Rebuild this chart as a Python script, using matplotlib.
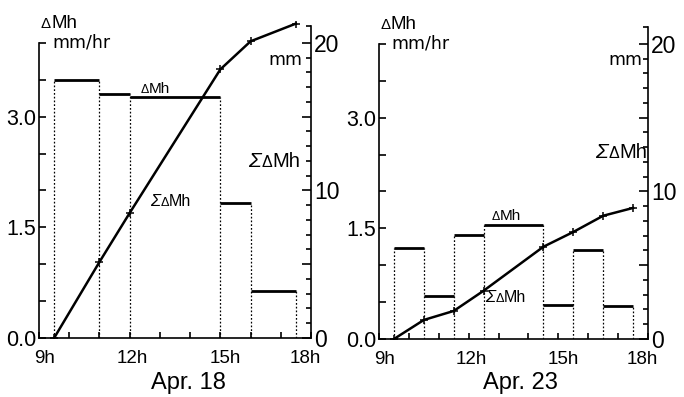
import matplotlib
matplotlib.use("Agg")
import matplotlib.pyplot as plt
from matplotlib.transforms import offset_copy, ScaledTranslation

plt.rcParams['font.family'] = ['Liberation Sans', 'DejaVu Sans']

W, H, DPI = 684, 397, 100

# Apr. 18: hourly melt rate (mm/hr) over each interval, and cumulative melt (mm)
edges_18 = [9.5, 11, 12, 15, 16, 17.5]
rate_18 = [3.50, 3.31, 3.26, 1.83, 0.64]
cum_hours_18 = [9.5, 11, 12, 15, 16, 17.5]
cum_18 = [0.0, 5.15, 8.47, 18.2, 20.1, 21.3]

# Apr. 23
edges_23 = [9.5, 10.5, 11.5, 12.5, 14.5, 15.5, 16.5, 17.5]
rate_23 = [1.23, 0.58, 1.41, 1.54, 0.46, 1.21, 0.45]
cum_hours_23 = [9.5, 10.5, 11.5, 12.5, 14.5, 15.5, 16.5, 17.5]
cum_23 = [0.0, 1.29, 1.90, 3.27, 6.25, 7.25, 8.35, 8.88]

hour_ticks = list(range(9, 19))
hour_labels = ['9h', '', '', '12h', '', '', '15h', '', '', '18h']
rate_ticks = [0.0, 0.5, 1.0, 1.5, 2.0, 2.5, 3.0, 3.5, 4.0]
rate_labels = ['0.0', '', '', '1.5', '', '', '3.0', '', '']
mm_major = [0, 5, 10, 15, 20]
mm_major_labels = ['0', '', '10', '', '20']
mm_minor = [1, 2, 3, 4, 6, 7, 8, 9, 11, 12, 13, 14, 16, 17, 18, 19, 21.15]

RATE_TOP, MM_TOP = 4.3, 21.5
LW_AX = 1.2

fig = plt.figure(figsize=(W / DPI, H / DPI), dpi=DPI)


def dmh(ax, x, y, size, sigma=False, transform=None):
    """Write ΔMh (optionally ΣΔMh); (x, y) is the point between Δ and M on the baseline."""
    tr = transform if transform is not None else ax.transData
    kw = dict(va='baseline', clip_on=False, color='black')
    ax.text(x, y, 'Δ', transform=tr, ha='right', fontsize=size * 0.8, **kw)
    ax.text(x, y, 'Mh', transform=tr, ha='left', fontsize=size, **kw)
    if sigma:
        tr2 = offset_copy(tr, fig=fig, x=-0.58 * size, units='points')
        ax.text(x, y, 'Σ', transform=tr2, ha='right', fontsize=size * 1.05,
                style='italic', **kw)


def panel(rect, edges, rates, cum_hours, cum, date, date_x,
          dm_in, sdm_in, sdm_side, mm_pos):
    ax = fig.add_axes(rect)
    ax.set_xlim(9, 18)
    ax.set_ylim(0, RATE_TOP)
    ax2 = ax.twinx()
    ax2.set_ylim(0, MM_TOP)

    # step bars: solid tops, dotted sides
    ax.hlines(rates, edges[:-1], edges[1:], color='black', lw=2.0)
    side_heights = []
    for i in range(len(edges)):
        left = rates[i - 1] if i > 0 else 0
        right = rates[i] if i < len(rates) else 0
        side_heights.append(max(left, right))
    ax.vlines(edges, 0, side_heights, color='black', lw=0.9,
              linestyles=(0, (1.4, 1.6)))

    # cumulative melt
    ax2.plot(cum_hours, cum, color='black', lw=1.8, marker='+', ms=5.5, mew=1.1)

    # spines
    for s in ['top', 'right']:
        ax.spines[s].set_visible(False)
    for s in ['top', 'left', 'bottom']:
        ax2.spines[s].set_visible(False)
    ax.spines['left'].set_bounds(0, 4.0)
    ax2.spines['right'].set_bounds(0, 21.15)
    for sp in [ax.spines['left'], ax.spines['bottom'], ax2.spines['right']]:
        sp.set_linewidth(LW_AX)

    ax.set_xticks(hour_ticks)
    ax.set_xticklabels(hour_labels)
    ax.set_yticks(rate_ticks)
    ax.set_yticklabels(rate_labels)
    ax.tick_params(axis='x', direction='in', length=4, width=LW_AX,
                   labelsize=13.5, pad=8.5)
    ax.tick_params(axis='y', direction='in', length=5, width=LW_AX,
                   labelsize=15.5, pad=2)
    # nudge the hour labels sideways a little
    shifts = {0: 6, 3: 3, 6: 5, 9: -6}
    for i, lab in enumerate(ax.get_xticklabels()):
        if i in shifts:
            lab.set_transform(lab.get_transform() +
                              ScaledTranslation(shifts[i] / DPI, 0,
                                                fig.dpi_scale_trans))

    ax2.set_yticks(mm_major)
    ax2.set_yticklabels(mm_major_labels)
    ax2.set_yticks(mm_minor, minor=True)
    ax2.tick_params(axis='y', which='major', direction='in', length=6.5,
                    width=LW_AX, labelsize=16.5, pad=2)
    ax2.tick_params(axis='y', which='minor', direction='in', length=3.5,
                    width=LW_AX)

    # headers and in-plot labels
    dmh(ax, 9.40, 4.2, 13.5)
    ax.text(9.43, 3.94, 'mm/hr', fontsize=12.5, ha='left', va='baseline',
            family='DejaVu Sans', clip_on=False)
    dmh(ax, dm_in[0], dm_in[1], 11)
    dmh(ax, sdm_in[0], sdm_in[1], 11.5, sigma=True)
    dmh(ax2, sdm_side[0], sdm_side[1], 14.5, sigma=True)
    ax2.text(mm_pos[0], mm_pos[1], 'mm', fontsize=12.5, ha='right',
             va='baseline', family='DejaVu Sans', clip_on=False)

    fig.text(date_x / W, 1 - 383 / H, date, fontsize=17, ha='center',
             va='center')
    return ax


def rect(x0, x1, y_bottom):
    height_px = RATE_TOP * 73.8
    return [x0 / W, 1 - y_bottom / H, (x1 - x0) / W, height_px / H]


panel(rect(39, 311, 338), edges_18, rate_18, cum_hours_18, cum_18,
      'Apr. 18', 188,
      dm_in=(12.63, 3.32), sdm_in=(13.3, 1.79),
      sdm_side=(16.72, 11.6), mm_pos=(17.70, 18.5))

panel(rect(379, 648, 339), edges_23, rate_23, cum_hours_23, cum_23,
      'Apr. 23', 520,
      dm_in=(13.03, 1.61), sdm_in=(13.18, 0.50),
      sdm_side=(17.03, 12.26), mm_pos=(17.8, 18.56))

fig.savefig('out.png', dpi=DPI)
